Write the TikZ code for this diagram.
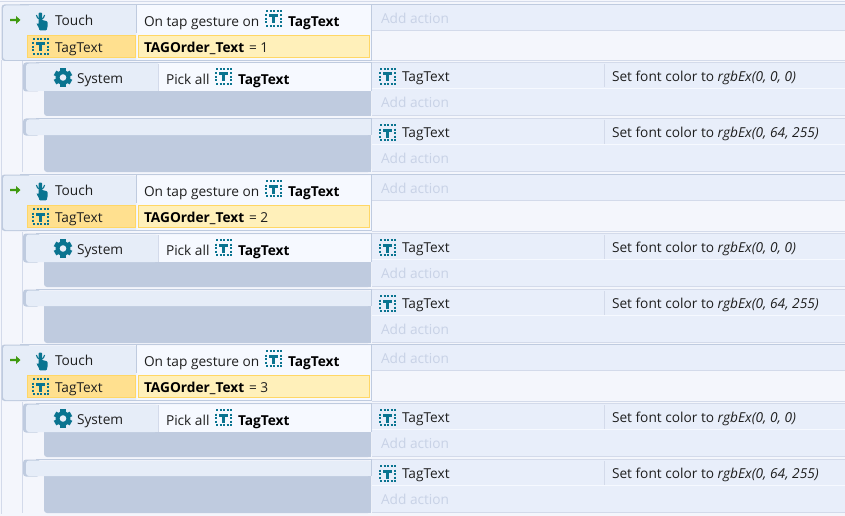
\documentclass[tikz,border=0pt]{standalone}
\usepackage{fontspec}
\setmainfont{Open Sans}
\definecolor{bgc}{HTML}{F4F6FC}
\definecolor{headc}{HTML}{E6EDF8}
\definecolor{condc}{HTML}{F6F9FF}
\definecolor{actc}{HTML}{E8EEFA}
\definecolor{linec}{HTML}{BFCBDF}
\definecolor{softc}{HTML}{D3DAEA}
\definecolor{greyc}{HTML}{BFCBDF}
\definecolor{yelA}{HTML}{FFE08F}
\definecolor{yelB}{HTML}{FFF0BA}
\definecolor{yelL}{HTML}{FFD766}
\definecolor{teal}{HTML}{0A7490}
\definecolor{addc}{HTML}{C8D2E6}
\definecolor{arrowc}{HTML}{3F9A0F}
\tikzset{
  txt/.style={anchor=base west,inner sep=0pt,outer sep=0pt,yshift=-\tadj pt,font=\fontsize{13.7}{15}\selectfont,text=black!88},
  bold/.style={txt,font=\fontsize{13.7}{15}\selectfont\bfseries,text=black},
  addtxt/.style={txt,text=addc},
  sep/.style={draw=linec,line width=1pt},
  softsep/.style={draw=softc,line width=1pt},
  yelbox/.style={draw=yelL,line width=1pt},
}
% T icon: top-left corner at #1,#2
\newcommand{\ticon}[2]{%
  \begin{scope}[shift={(#1,#2)}]
    \draw[teal,line width=1.9pt,dash pattern=on 2pt off 1.5pt] (1,1) -- (16.5,1);
    \draw[teal,line width=1.9pt,dash pattern=on 2pt off 1.5pt] (1,16) -- (16.5,16);
    \draw[teal,line width=1.9pt,dash pattern=on 2pt off 1.5pt] (1,4.5) -- (1,14.5);
    \draw[teal,line width=1.9pt,dash pattern=on 2pt off 1.5pt] (16,4.5) -- (16,14.5);
    \fill[teal] (4,4.5) rectangle (13,7.5);
    \fill[teal] (6.6,7) rectangle (10.4,13.5);
  \end{scope}}
% touch icon
\newcommand{\touchicon}[2]{%
  \begin{scope}[shift={(#1,#2)}]
    \draw[teal,line width=1.1pt] (0.4,5.5) arc[start angle=180,end angle=0,radius=4.1];
    \fill[teal,rounded corners=0.8pt] (2.7,3.2) -- (6.1,3.2) -- (6.1,10.5) -- (11.4,11.8) -- (11.8,16) -- (10.6,20.8) -- (3.4,20.8) -- (2.7,18) -- (0.6,14.5) -- (1,13.6) -- (2.7,14.8) -- cycle;
  \end{scope}}
% gear icon, centre #1,#2
\newcommand{\gearicon}[2]{%
  \begin{scope}[shift={(#1,#2)}]
    \foreach \a in {0,60,...,300}{
      \fill[teal,rotate=\a] (-2.6,-9.2) rectangle (2.6,0);
    }
    \fill[teal] (0,0) circle[radius=7.4];
    \fill[headc] (0,0) circle[radius=3.3];
  \end{scope}}
\begin{document}
\begin{tikzpicture}[x=1pt,y=-1pt]
\useasboundingbox (0,0) rectangle (845,516);
\fill[bgc] (0,0) rectangle (845,516);
\draw[softsep] (0,1.5) -- (845,1.5);
\coordinate (leftTop) at (1.5,60);
\coordinate (leftBot) at (1.5,514);
\draw[softsep] (leftTop) -- (leftBot);
\foreach \n/\e/\s/\val/\tadj in {1/0/0/1/0.7,2/170/171/2/0,3/340/341/3/0}{
  % ---------- event
  \begin{scope}[shift={(0,\e)}]
    \fill[actc] (372,5) rectangle (845,30);
    \draw[sep] (371.5,4.5) -- (845,4.5);
    \draw[softsep] (372,30.5) -- (845,30.5);
    \fill[linec,rounded corners=3pt] (1.5,4.5) rectangle (30,61);
    \fill[headc,rounded corners=3pt] (3,5.5) -- (136,5.5) -- (136,60) -- (3,60) -- cycle;
    \fill[headc] (30,5.5) rectangle (136,60);
    \fill[condc] (137,5.5) rectangle (371,60);
    \draw[sep] (136.5,5) -- (136.5,33);
    \draw[sep] (371.5,5) -- (371.5,61);
    \draw[sep] (20,60.5) -- (371.5,60.5);
    \draw[sep] (20,4.5) -- (371.5,4.5);
    \draw[softsep] (372,61) -- (845,61);
    \draw[yelbox,fill=yelA] (27.5,35.5) rectangle (135.5,57.5);
    \draw[yelbox,fill=yelB] (138.5,35.5) rectangle (369.5,57.5);
    \fill[arrowc] (10,18.8) -- (16,18.8) -- (16,16) -- (20.5,20) -- (16,24) -- (16,21.2) -- (10,21.2) -- cycle;
    \touchicon{36}{9.5}
    \node[txt] (touch\n) at (55,25) {Touch};
    \node[txt] (tap\n) at (144,26) {On tap gesture on};
    \ticon{265}{10}
    \node[bold] (tapobj\n) at (288,26) {TagText};
    \node[addtxt] (addA\n) at (381,23) {Add action};
    \ticon{32}{38}
    \node[txt] (tag\n) at (55,52) {TagText};
    \node[bold] (order\n) at (144,52) {TAGOrder\_Text};
    \node[txt] (orderval\n) at (249,52) {= \val};
  \end{scope}
  % ---------- sub-events
  \begin{scope}[shift={(0,\s)}]
    \draw[softsep] (22.5,61) -- (22.5,172);
    % System sub-event
    \fill[greyc,rounded corners=3pt] (44,85) -- (371,85) -- (371,116) -- (44,116) -- cycle;
    \fill[greyc] (200,85) rectangle (371,116);
    \fill[linec,rounded corners=3pt] (23,62.5) -- (40,62.5) -- (40,91.5) -- (23,91.5) -- cycle;
    \fill[headc,rounded corners=3pt] (26,63.5) -- (158,63.5) -- (158,91) -- (26,91) -- cycle;
    \fill[headc] (60,63.5) rectangle (158,91);
    \fill[condc] (159,63.5) rectangle (371,91);
    \draw[sep] (36,62.5) -- (371.5,62.5);
    \draw[softsep] (158.5,64) -- (158.5,91);
    \draw[sep] (371.5,62.5) -- (371.5,91);
    \fill[actc] (372,63) rectangle (845,115);
    \draw[softsep] (372,62.5) -- (845,62.5);
    \draw[condc,line width=1pt] (372,88.5) -- (845,88.5);
    \draw[softsep] (604.5,64) -- (604.5,87.5);
    \draw[softsep] (372,115.5) -- (845,115.5);
    \gearicon{63}{77.5}
    \node[txt] (system\n) at (77,83) {System};
    \node[txt] (pick\n) at (166,84) {Pick all};
    \ticon{215}{68}
    \node[bold] (pickobj\n) at (238,84) {TagText};
    \ticon{379}{68}
    \node[txt] (acttag\n) at (402,81) {TagText};
    \node[txt] (setb\n) at (612,81) {Set font color to \textit{rgbEx(0, 0, 0)}};
    \node[addtxt] (addB\n) at (381,107) {Add action};
    % empty sub-event
    \fill[greyc,rounded corners=3pt] (44,130) -- (371,130) -- (371,172) -- (44,172) -- cycle;
    \fill[greyc] (200,130) rectangle (371,172);
    \fill[linec,rounded corners=3pt] (23,118.5) -- (40,118.5) -- (40,135.5) -- (23,135.5) -- cycle;
    \fill[headc,rounded corners=3pt] (26,119.5) -- (371,119.5) -- (371,135) -- (26,135) -- cycle;
    \fill[headc] (60,119.5) rectangle (371,135);
    \draw[sep] (36,118.5) -- (371.5,118.5);
    \draw[sep] (371.5,118.5) -- (371.5,135);
    \fill[actc] (372,119) rectangle (845,171);
    \draw[softsep] (372,118.5) -- (845,118.5);
    \draw[condc,line width=1pt] (372,144.5) -- (845,144.5);
    \draw[softsep] (604.5,120) -- (604.5,143.5);
    \draw[softsep] (372,171.5) -- (845,171.5);
    \ticon{379}{124}
    \node[txt] (acttagb\n) at (402,137) {TagText};
    \node[txt] (setc\n) at (612,137) {Set font color to \textit{rgbEx(0, 64, 255)}};
    \node[addtxt] (addC\n) at (381,163) {Add action};
  \end{scope}
}
\end{tikzpicture}
\end{document}
